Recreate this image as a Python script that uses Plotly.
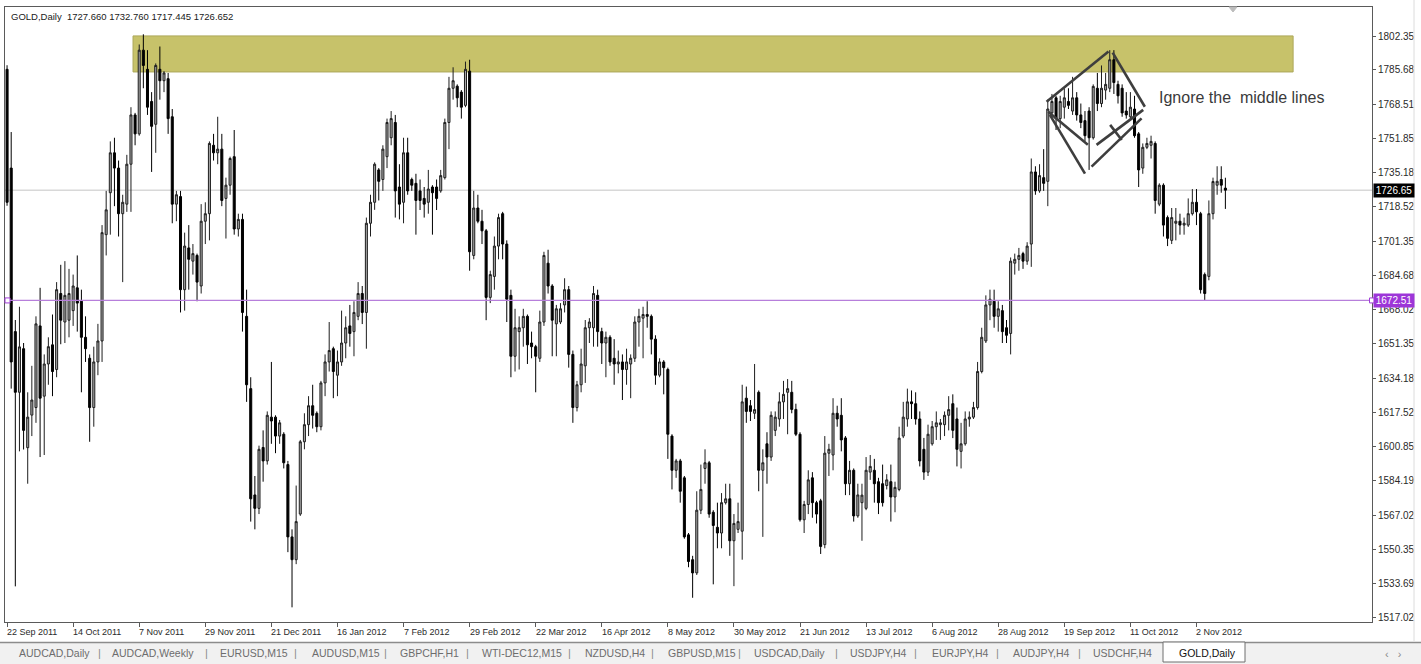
import plotly.graph_objects as go

symbol = "GOLD,Daily"

# tick labels every 16 bars
date_labels = ["22 Sep 2011", "14 Oct 2011", "7 Nov 2011", "29 Nov 2011", "21 Dec 2011",
               "16 Jan 2012", "7 Feb 2012", "29 Feb 2012", "22 Mar 2012", "16 Apr 2012",
               "8 May 2012", "30 May 2012", "21 Jun 2012", "13 Jul 2012", "6 Aug 2012",
               "28 Aug 2012", "19 Sep 2012", "11 Oct 2012", "2 Nov 2012"]
bars_per_label = 16

opens = [
    1786.0, 1737.5, 1657.2, 1627.4, 1648.8, 1600.2, 1616.2, 1619.9, 1660.0, 1625.5,
    1641.3, 1650.7, 1638.6, 1675.9, 1661.9, 1662.8, 1667.5, 1678.7, 1672.1, 1654.4,
    1644.1, 1619.9, 1642.3, 1652.6, 1704.8, 1725.4, 1745.0, 1737.5, 1715.1, 1719.8,
    1739.4, 1763.6, 1754.3, 1795.4, 1786.0, 1770.2, 1759.0, 1786.0, 1780.4, 1781.4,
    1762.7, 1719.8, 1723.5, 1677.8, 1698.3, 1691.8, 1694.6, 1679.6, 1711.4, 1715.1,
    1748.7, 1745.0, 1746.8, 1722.6, 1729.1, 1743.1, 1707.6, 1712.3, 1664.7, 1629.2,
    1577.0, 1570.4, 1600.3, 1593.7, 1615.2, 1615.2, 1605.9, 1606.8, 1591.9, 1556.4,
    1545.2, 1567.6, 1603.1, 1611.5, 1620.8, 1617.1, 1610.5, 1632.0, 1642.3, 1648.8,
    1635.8, 1642.3, 1651.6, 1660.0, 1657.2, 1664.7, 1675.9, 1666.6, 1710.4, 1720.7,
    1736.6, 1731.9, 1743.1, 1752.4, 1759.9, 1728.2, 1720.7, 1745.0, 1731.9, 1730.0,
    1726.3, 1722.6, 1720.7, 1728.2, 1728.2, 1726.3, 1732.8, 1759.9, 1776.7, 1777.7,
    1774.8, 1768.3, 1785.1, 1694.6, 1717.9, 1711.4, 1706.7, 1674.0, 1684.3, 1699.2,
    1715.1, 1700.2, 1675.0, 1645.1, 1657.2, 1659.1, 1664.7, 1651.6, 1649.8, 1644.1,
    1661.9, 1690.8, 1679.6, 1661.0, 1661.9, 1670.3, 1677.8, 1646.0, 1619.9, 1631.1,
    1640.4, 1659.1, 1659.1, 1675.0, 1657.2, 1651.6, 1654.4, 1644.1, 1641.3, 1642.3,
    1638.6, 1641.3, 1644.1, 1661.9, 1663.8, 1665.6, 1664.7, 1653.5, 1635.8, 1642.3,
    1638.6, 1605.9, 1589.1, 1593.7, 1585.4, 1557.4, 1545.2, 1538.7, 1569.5, 1590.0,
    1592.8, 1568.5, 1561.1, 1558.3, 1573.2, 1575.1, 1554.5, 1560.1, 1559.2, 1624.5,
    1620.8, 1617.1, 1627.4, 1589.1, 1602.1, 1595.6, 1608.7, 1614.3, 1622.7, 1627.4,
    1627.4, 1619.0, 1606.8, 1564.8, 1572.3, 1585.4, 1573.2, 1574.1, 1552.6, 1597.5,
    1596.6, 1617.1, 1616.1, 1605.0, 1582.5, 1589.1, 1566.7, 1573.2, 1570.4, 1588.2,
    1589.1, 1583.5, 1582.5, 1581.6, 1583.5, 1576.0, 1579.7, 1605.9, 1614.3, 1622.7,
    1621.8, 1614.3, 1599.4, 1588.2, 1602.1, 1610.5, 1611.5, 1611.5, 1616.1, 1621.8,
    1614.3, 1598.4, 1602.1, 1614.3, 1615.2, 1619.9, 1637.6, 1652.6, 1670.3, 1672.1,
    1664.7, 1667.5, 1659.1, 1656.3, 1690.8, 1692.7, 1695.5, 1691.8, 1700.2, 1735.6,
    1726.3, 1732.8, 1731.0, 1764.6, 1772.0, 1761.8, 1767.4, 1770.2, 1765.5, 1772.0,
    1763.6, 1760.8, 1765.5, 1752.4, 1776.7, 1769.2, 1775.8, 1776.7, 1790.7, 1778.6,
    1776.7, 1765.5, 1762.7, 1766.5, 1754.3, 1737.5, 1747.7, 1748.7, 1749.6, 1719.8,
    1729.1, 1713.2, 1702.0, 1710.4, 1711.4, 1709.5, 1709.5, 1715.1, 1720.7, 1715.1,
    1685.2, 1684.3, 1715.1, 1729.1, 1731.9, 1727.660]

highs = [
    1788.0, 1755.2, 1662.9, 1669.4, 1651.6, 1627.4, 1640.4, 1664.7, 1678.7, 1646.0,
    1654.4, 1665.6, 1681.5, 1690.0, 1691.8, 1688.0, 1685.2, 1694.6, 1677.8, 1664.7,
    1646.0, 1649.8, 1661.0, 1709.5, 1726.3, 1750.6, 1752.4, 1741.2, 1724.4, 1744.0,
    1767.4, 1764.6, 1798.2, 1803.2, 1795.4, 1774.8, 1788.9, 1797.2, 1785.1, 1784.2,
    1766.5, 1726.3, 1726.3, 1705.8, 1709.5, 1700.2, 1695.5, 1719.8, 1720.7, 1750.6,
    1754.3, 1762.7, 1754.3, 1732.8, 1743.1, 1756.2, 1715.1, 1715.1, 1677.8, 1634.8,
    1586.3, 1601.2, 1608.7, 1618.0, 1642.3, 1616.1, 1613.8, 1607.8, 1593.7, 1560.1,
    1581.6, 1604.0, 1617.1, 1625.5, 1631.1, 1618.0, 1633.0, 1646.0, 1661.9, 1649.8,
    1647.9, 1667.5, 1664.7, 1670.3, 1672.1, 1681.5, 1679.6, 1713.2, 1724.4, 1740.3,
    1737.5, 1748.7, 1761.8, 1765.5, 1763.6, 1739.4, 1752.4, 1752.4, 1732.8, 1734.7,
    1731.9, 1728.2, 1736.6, 1729.1, 1731.9, 1736.6, 1761.8, 1782.3, 1787.0, 1778.6,
    1775.8, 1789.8, 1790.7, 1726.3, 1724.4, 1717.0, 1707.6, 1687.1, 1703.9, 1715.1,
    1716.0, 1702.0, 1677.8, 1668.4, 1664.7, 1668.4, 1665.6, 1657.2, 1650.7, 1667.5,
    1696.4, 1697.4, 1680.5, 1670.3, 1671.2, 1683.4, 1679.6, 1647.9, 1633.0, 1648.8,
    1662.9, 1663.8, 1679.6, 1677.8, 1659.1, 1657.2, 1655.4, 1653.5, 1647.9, 1646.0,
    1648.8, 1646.0, 1664.7, 1668.4, 1669.4, 1672.1, 1665.6, 1655.4, 1644.1, 1643.2,
    1639.5, 1606.8, 1594.7, 1594.7, 1586.3, 1558.3, 1547.1, 1578.8, 1591.9, 1599.4,
    1593.7, 1569.5, 1573.2, 1577.9, 1582.5, 1582.5, 1567.6, 1573.2, 1631.1, 1630.2,
    1623.6, 1641.3, 1628.3, 1599.4, 1607.8, 1618.0, 1618.0, 1627.4, 1633.0, 1633.9,
    1633.0, 1621.8, 1607.8, 1574.1, 1589.1, 1588.2, 1574.1, 1575.1, 1605.9, 1602.1,
    1624.5, 1620.8, 1624.5, 1605.9, 1593.7, 1590.0, 1582.5, 1582.5, 1595.6, 1596.6,
    1594.7, 1585.4, 1591.9, 1587.2, 1591.9, 1583.5, 1610.5, 1622.7, 1629.2, 1628.3,
    1627.4, 1618.0, 1605.0, 1611.5, 1613.3, 1618.0, 1614.3, 1618.0, 1625.5, 1626.4,
    1619.9, 1612.4, 1618.0, 1618.0, 1622.7, 1642.3, 1659.1, 1675.0, 1677.8, 1677.8,
    1672.1, 1670.3, 1662.9, 1693.6, 1695.5, 1698.3, 1696.4, 1701.1, 1742.2, 1738.4,
    1739.4, 1746.8, 1771.1, 1773.9, 1773.0, 1773.0, 1776.7, 1776.7, 1782.3, 1774.8,
    1769.2, 1765.5, 1767.4, 1778.6, 1784.2, 1787.9, 1784.2, 1795.4, 1795.4, 1780.4,
    1778.6, 1774.8, 1774.8, 1773.0, 1755.2, 1749.6, 1752.4, 1753.4, 1750.6, 1730.0,
    1730.0, 1714.2, 1717.9, 1717.9, 1715.1, 1713.2, 1722.6, 1727.2, 1727.2, 1716.0,
    1686.2, 1721.6, 1732.8, 1738.4, 1738.4, 1732.760]

lows = [
    1719.0, 1629.2, 1532.1, 1598.4, 1599.3, 1582.5, 1605.9, 1612.4, 1595.6, 1596.6,
    1631.1, 1625.5, 1634.8, 1651.0, 1651.6, 1654.4, 1660.0, 1657.2, 1627.4, 1642.3,
    1603.1, 1610.5, 1635.8, 1642.3, 1694.6, 1704.8, 1718.8, 1703.9, 1681.5, 1716.0,
    1716.0, 1748.7, 1753.4, 1776.7, 1763.6, 1735.6, 1745.0, 1771.1, 1774.8, 1754.3,
    1710.4, 1711.4, 1666.6, 1667.5, 1677.8, 1685.2, 1672.1, 1675.9, 1700.2, 1702.0,
    1741.2, 1739.4, 1718.8, 1702.9, 1724.4, 1704.8, 1703.9, 1657.2, 1622.7, 1563.9,
    1560.1, 1567.6, 1583.5, 1591.9, 1602.1, 1597.5, 1602.1, 1590.0, 1548.9, 1521.8,
    1543.0, 1566.7, 1599.4, 1605.9, 1609.6, 1607.8, 1608.7, 1625.5, 1637.6, 1624.5,
    1625.5, 1640.4, 1644.1, 1649.8, 1645.1, 1662.8, 1660.9, 1648.8, 1703.9, 1717.0,
    1721.6, 1726.3, 1737.5, 1748.7, 1713.2, 1712.3, 1710.4, 1724.4, 1726.3, 1704.8,
    1716.9, 1713.2, 1715.1, 1704.8, 1716.9, 1725.4, 1731.9, 1746.8, 1771.1, 1767.4,
    1761.8, 1767.4, 1687.1, 1692.7, 1710.4, 1700.2, 1662.8, 1671.2, 1677.8, 1692.7,
    1692.7, 1661.9, 1634.8, 1637.6, 1638.6, 1649.8, 1641.3, 1644.1, 1627.4, 1642.3,
    1660.0, 1675.9, 1645.1, 1645.1, 1660.9, 1666.6, 1639.5, 1612.4, 1618.0, 1627.4,
    1632.0, 1651.6, 1649.8, 1649.8, 1641.3, 1634.8, 1640.4, 1631.1, 1636.7, 1623.6,
    1631.1, 1624.5, 1642.3, 1649.8, 1644.1, 1659.1, 1646.0, 1631.1, 1634.8, 1626.4,
    1594.7, 1579.7, 1585.4, 1573.2, 1555.5, 1541.5, 1526.5, 1537.7, 1567.6, 1582.5,
    1565.8, 1533.1, 1550.8, 1550.8, 1572.3, 1547.1, 1532.2, 1558.3, 1545.2, 1612.4,
    1613.3, 1614.3, 1578.8, 1556.4, 1582.5, 1593.7, 1605.9, 1610.5, 1614.3, 1606.8,
    1617.1, 1605.9, 1563.9, 1558.3, 1567.6, 1565.8, 1563.0, 1548.0, 1550.8, 1586.3,
    1589.1, 1610.5, 1598.4, 1576.9, 1576.9, 1563.9, 1565.8, 1554.5, 1569.5, 1584.4,
    1573.2, 1567.6, 1571.3, 1579.7, 1563.9, 1568.5, 1578.8, 1604.9, 1610.5, 1614.3,
    1611.5, 1591.0, 1584.4, 1586.3, 1601.2, 1604.0, 1604.0, 1605.9, 1608.7, 1604.9,
    1591.0, 1590.0, 1601.2, 1610.5, 1614.3, 1618.9, 1636.7, 1651.6, 1662.8, 1659.1,
    1657.2, 1651.6, 1651.6, 1646.0, 1685.2, 1687.1, 1688.0, 1690.0, 1689.0, 1724.4,
    1725.4, 1726.3, 1718.8, 1761.8, 1756.2, 1757.1, 1761.8, 1766.5, 1763.6, 1760.8,
    1757.1, 1750.6, 1736.6, 1751.5, 1765.5, 1767.4, 1771.1, 1774.8, 1773.9, 1769.2,
    1762.7, 1761.8, 1761.8, 1752.4, 1728.2, 1734.7, 1746.8, 1742.2, 1715.1, 1718.8,
    1703.9, 1699.2, 1700.2, 1702.0, 1704.8, 1704.8, 1708.6, 1714.2, 1709.5, 1675.9,
    1672.5, 1682.4, 1712.3, 1724.4, 1725.4, 1717.445]

closes = [
    1720.7, 1642.3, 1627.4, 1649.7, 1608.7, 1615.2, 1623.6, 1661.0, 1624.5, 1641.3,
    1649.8, 1637.6, 1677.8, 1662.8, 1675.0, 1675.9, 1679.6, 1671.2, 1654.4, 1648.8,
    1619.9, 1642.3, 1652.6, 1705.8, 1717.0, 1745.0, 1737.5, 1715.1, 1720.7, 1739.4,
    1763.6, 1754.3, 1795.4, 1787.9, 1767.4, 1758.0, 1787.9, 1780.4, 1784.2, 1761.8,
    1719.8, 1724.4, 1677.8, 1699.2, 1692.7, 1695.5, 1681.5, 1711.4, 1715.1, 1749.6,
    1745.0, 1746.8, 1721.6, 1729.1, 1742.2, 1707.6, 1712.3, 1666.6, 1631.1, 1575.1,
    1570.4, 1599.4, 1593.7, 1616.1, 1613.3, 1605.9, 1612.4, 1592.8, 1556.4, 1545.2,
    1563.9, 1603.1, 1611.5, 1620.8, 1616.1, 1610.5, 1632.0, 1642.3, 1647.9, 1637.6,
    1642.3, 1651.6, 1659.1, 1656.3, 1666.6, 1675.9, 1666.6, 1710.4, 1720.7, 1739.4,
    1731.0, 1746.8, 1759.9, 1761.8, 1726.3, 1719.8, 1745.0, 1726.3, 1729.1, 1721.6,
    1721.6, 1719.8, 1727.2, 1725.4, 1722.6, 1733.8, 1759.9, 1776.7, 1780.4, 1772.0,
    1767.4, 1786.0, 1696.4, 1717.9, 1711.4, 1706.7, 1674.0, 1685.2, 1699.2, 1713.2,
    1700.2, 1673.1, 1645.1, 1659.1, 1659.1, 1664.7, 1650.7, 1649.8, 1645.1, 1661.9,
    1694.6, 1679.6, 1662.8, 1668.4, 1668.4, 1677.8, 1646.0, 1619.9, 1631.1, 1641.3,
    1659.1, 1661.9, 1675.9, 1657.2, 1651.6, 1654.4, 1642.3, 1641.3, 1642.3, 1638.6,
    1642.3, 1644.1, 1661.9, 1664.7, 1665.6, 1664.7, 1653.5, 1635.8, 1642.3, 1639.5,
    1606.8, 1589.1, 1593.7, 1578.8, 1556.4, 1544.3, 1538.7, 1569.5, 1579.7, 1592.8,
    1567.6, 1562.0, 1558.3, 1573.2, 1575.1, 1554.5, 1563.0, 1563.9, 1622.7, 1618.0,
    1618.0, 1618.9, 1589.1, 1592.8, 1595.6, 1616.1, 1615.2, 1622.7, 1626.4, 1629.2,
    1619.0, 1606.8, 1564.8, 1572.3, 1584.4, 1573.2, 1567.6, 1551.7, 1597.5, 1599.4,
    1617.1, 1614.3, 1604.0, 1582.5, 1589.1, 1566.7, 1577.0, 1576.9, 1589.1, 1591.0,
    1582.5, 1573.2, 1573.2, 1584.4, 1576.0, 1580.7, 1604.9, 1615.2, 1622.7, 1621.8,
    1614.3, 1593.7, 1588.2, 1606.8, 1610.5, 1612.4, 1612.4, 1616.1, 1618.9, 1608.7,
    1599.4, 1602.1, 1614.3, 1615.2, 1619.9, 1637.6, 1654.4, 1670.3, 1673.1, 1664.7,
    1668.4, 1657.2, 1655.4, 1691.8, 1692.7, 1694.6, 1691.8, 1699.2, 1735.6, 1726.3,
    1733.8, 1730.0, 1766.5, 1770.2, 1761.8, 1770.2, 1772.0, 1768.3, 1772.0, 1763.6,
    1759.9, 1753.4, 1752.4, 1777.6, 1769.2, 1776.7, 1778.6, 1790.7, 1779.5, 1773.0,
    1764.6, 1763.6, 1767.4, 1753.4, 1736.6, 1747.7, 1749.6, 1750.6, 1721.6, 1729.1,
    1709.5, 1703.0, 1713.2, 1711.4, 1709.5, 1710.4, 1715.1, 1720.7, 1716.0, 1677.8,
    1675.9, 1715.1, 1730.9, 1731.0, 1729.1, 1726.652]

price_tick_labels = ["1517.02", "1533.69", "1550.35", "1567.02", "1584.19", "1600.85",
                     "1617.52", "1634.18", "1651.35", "1668.02", "1684.68", "1701.35",
                     "1718.52", "1735.18", "1751.85", "1768.51", "1785.68", "1802.35"]

level_price = 1672.51               # purple horizontal line
zone_bars = [30.5, 311.4]           # olive resistance zone (bar index span)
zone_prices = [1784.7, 1802.4]
# drawn trendlines: (bar0, price0, bar1, price1)
trendlines = [
    (251.7, 1770.1, 266.7, 1794.7),
    (267.7, 1794.2, 275.5, 1767.6),
    (252.1, 1765.2, 261.7, 1748.9),
    (252.5, 1763.6, 261.0, 1734.8),
    (262.6, 1738.2, 274.7, 1761.9),
    (263.8, 1748.9, 275.1, 1766.1),
    (267.1, 1758.7, 269.9, 1751.3),
]
note_text = "Ignore the\u00a0 middle lines"
tabs = ["AUDCAD,Daily", "AUDCAD,Weekly", "EURUSD,M15", "AUDUSD,M15", "GBPCHF,H1",
        "WTI-DEC12,M15", "NZDUSD,H4", "GBPUSD,M15", "USDCAD,Daily", "USDJPY,H4",
        "EURJPY,H4", "AUDJPY,H4", "USDCHF,H4", "GOLD,Daily"]

# ---------------- layout geometry (pixels) ----------------
W, H = 1421, 664
PL, PR, PT, PB = 5, 1372, 7, 622
tab_x = [17, 110, 218, 310, 398, 480, 583, 666, 752, 848, 930, 1011, 1091, 1177]
sep_x = [99, 206, 295, 385, 467, 569, 652, 740, 836, 916, 997, 1079]


def px(x):
    return (x - PL) / (PR - PL)


def py(y):
    return (PB - y) / (PB - PT)


FONT = "Liberation Sans, Arial, sans-serif"
n = len(closes)
idx = list(range(n))

fig = go.Figure()
fig.add_trace(go.Candlestick(
    x=idx, open=opens, high=highs, low=lows, close=closes,
    increasing=dict(line=dict(color="#1e1e1e", width=1), fillcolor="#a9a9a9"),
    decreasing=dict(line=dict(color="#000000", width=1), fillcolor="#000000"),
    whiskerwidth=0, showlegend=False, hoverinfo="skip",
))

shapes = []
# olive zone
shapes.append(dict(type="rect", xref="x", yref="y", x0=zone_bars[0], x1=zone_bars[1],
                   y0=zone_prices[0], y1=zone_prices[1], fillcolor="#c7c26a",
                   line=dict(color="#aca85a", width=1), layer="below"))
# bid line
bid = closes[-1]
shapes.append(dict(type="line", xref="paper", yref="y", x0=0, x1=1, y0=bid, y1=bid,
                   line=dict(color="#c4c4c4", width=1), layer="below"))
# purple level line
shapes.append(dict(type="line", xref="paper", yref="y", x0=0, x1=1, y0=level_price,
                   y1=level_price, line=dict(color="#b77fdb", width=1.2)))
for xa in (px(7.5), 1.0):
    shapes.append(dict(type="rect", xref="paper", yref="y", xsizemode="pixel",
                       ysizemode="pixel", xanchor=xa, yanchor=level_price,
                       x0=-2.5, x1=2.5, y0=-2.5, y1=2.5,
                       line=dict(color="#a23fd8", width=1), fillcolor="white"))
# trendlines
for (b0, p0, b1, p1) in trendlines:
    shapes.append(dict(type="line", xref="x", yref="y", x0=b0, y0=p0, x1=b1, y1=p1,
                       line=dict(color="#3e3e3e", width=2.6)))
# chart shift marker
shapes.append(dict(type="path", xref="paper", yref="paper", xsizemode="pixel",
                   ysizemode="pixel", xanchor=px(1233), yanchor=1.0,
                   path="M -4 0 L 4 0 L 0 -5 Z", fillcolor="#bdbdbd",
                   line=dict(color="#bdbdbd", width=1)))
# window right edge
shapes.append(dict(type="line", xref="paper", yref="paper", x0=px(1414), x1=px(1414),
                   y0=py(0), y1=py(641), line=dict(color="#dcdcdc", width=1)))
# tab bar
shapes.append(dict(type="rect", xref="paper", yref="paper", x0=px(0), x1=px(W),
                   y0=py(642), y1=py(H), fillcolor="#f1f1f1", line=dict(width=0)))
shapes.append(dict(type="line", xref="paper", yref="paper", x0=px(0), x1=px(W),
                   y0=py(642.5), y1=py(642.5), line=dict(color="#8c8c8c", width=1.5)))
shapes.append(dict(type="rect", xref="paper", yref="paper", x0=px(1163), x1=px(1245),
                   y0=py(642), y1=py(662), fillcolor="white",
                   line=dict(color="#6e6e6e", width=1)))

annotations = []
annotations.append(dict(
    xref="paper", yref="paper", x=px(9), y=py(16), xanchor="left", yanchor="middle",
    text=f"{symbol}\u00a0 {opens[-1]:.3f} {highs[-1]:.3f} {lows[-1]:.3f} {closes[-1]:.3f}",
    showarrow=False, font=dict(family=FONT, size=9.5, color="#1a1a1a")))
for k, lab in enumerate(date_labels):
    annotations.append(dict(xref="x", yref="paper", x=k * bars_per_label, y=py(632),
                            xanchor="left", yanchor="middle", xshift=-2, text=lab,
                            showarrow=False, font=dict(family=FONT, size=9, color="#2a2a2a")))
annotations.append(dict(xref="paper", yref="y", x=1, y=bid, xanchor="left", yanchor="middle",
                        xshift=1, text=f"{bid:.2f}", showarrow=False, bgcolor="#000000",
                        width=38, height=11, borderpad=1,
                        font=dict(family=FONT, size=10, color="white")))
annotations.append(dict(xref="paper", yref="y", x=1, y=level_price, xanchor="left",
                        yanchor="middle", xshift=1, text=f"{level_price:.2f}", showarrow=False,
                        bgcolor="#9d36d8", width=38, height=11, borderpad=1,
                        font=dict(family=FONT, size=10, color="white")))
annotations.append(dict(xref="paper", yref="paper", x=px(1157), y=py(98), xanchor="left",
                        yanchor="middle", text=note_text, showarrow=False,
                        font=dict(family=FONT, size=16, color="#3a3a3a")))
for name, tx in zip(tabs, tab_x):
    active = name == tabs[-1]
    annotations.append(dict(xref="paper", yref="paper", x=px(tx), y=py(653), xanchor="left",
                            yanchor="middle", text=name, showarrow=False,
                            font=dict(family=FONT, size=10.5,
                                      color="#111111" if active else "#6d6d6d")))
for sx in sep_x:
    annotations.append(dict(xref="paper", yref="paper", x=px(sx), y=py(653), xanchor="center",
                            yanchor="middle", text="|", showarrow=False,
                            font=dict(family=FONT, size=11, color="#8a8a8a")))
annotations.append(dict(xref="paper", yref="paper", x=px(1393), y=py(654), xanchor="center",
                        yanchor="middle", text="\u2039\u00a0\u00a0 \u203a", showarrow=False,
                        font=dict(family=FONT, size=11, color="#8a8a8a")))

fig.update_layout(
    width=W, height=H,
    margin=dict(l=PL, r=W - PR, t=PT, b=H - PB),
    paper_bgcolor="white", plot_bgcolor="white",
    showlegend=False,
    shapes=shapes, annotations=annotations,
    xaxis=dict(range=[-0.5, 330.5], rangeslider=dict(visible=False), showgrid=False,
               zeroline=False, showline=True, linecolor="#5a5a5a", linewidth=1, mirror=True,
               tickvals=[k * bars_per_label for k in range(len(date_labels))],
               showticklabels=False, ticks="outside", ticklen=4, tickcolor="#5a5a5a",
               fixedrange=True),
    yaxis=dict(range=[1514.6, 1816.6], side="right", showgrid=False, zeroline=False,
               showline=True, linecolor="#5a5a5a", linewidth=1, mirror=True,
               tickvals=[float(t) for t in price_tick_labels], ticktext=price_tick_labels,
               ticks="outside", ticklen=3, tickcolor="#5a5a5a",
               tickfont=dict(family=FONT, size=10, color="#2a2a2a"), fixedrange=True),
)

fig.write_html("out.html", config={"displayModeBar": False},
               post_script="document.body.style.margin='0';document.body.style.overflow='hidden';")
